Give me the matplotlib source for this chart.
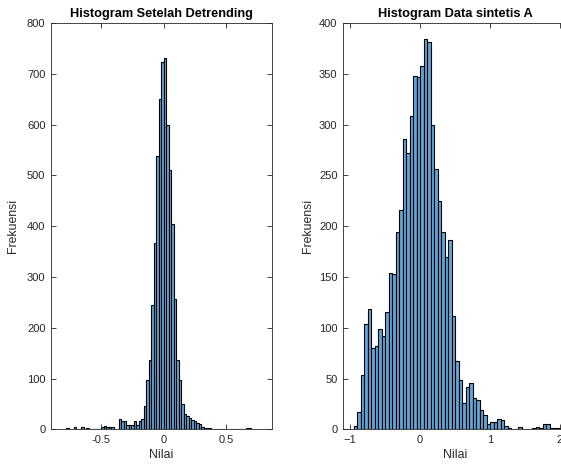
import numpy as np
import matplotlib
matplotlib.use("Agg")
import matplotlib.pyplot as plt

plt.rcParams['font.family'] = ['Liberation Sans', 'DejaVu Sans']

# ---------------- data ----------------
# Left: "Histogram Setelah Detrending" (bin width 0.02, first bin starts at -0.80)
left_bin_start = -0.80
left_bin_width = 0.02
left_counts = [
    0, 3, 0, 0, 5, 0, 0, 5, 0, 2,          # -0.80 .. -0.62
    0, 0, 0, 0, 0, 4, 7, 4, 4, 4,          # -0.60 .. -0.42
    1, 1, 20, 16, 17, 9, 9, 8, 17, 9,      # -0.40 .. -0.22
    17, 20, 45, 97, 137, 244, 366, 538, 650, 723,   # -0.20 .. -0.02
    732, 599, 511, 405, 256, 136, 97, 50, 31, 27,   # 0.00 .. 0.18
    23, 19, 17, 13, 10, 5, 3, 2, 2, 0,     # 0.20 .. 0.38
    0, 0, 0, 0, 0, 0, 0, 0, 0, 0,          # 0.40 .. 0.58
    0, 0, 0, 3, 3,                         # 0.60 .. 0.68
]

# Right: "Histogram Data sintetis A" (bin width 0.05, first bin starts at -0.95)
right_bin_start = -0.95
right_bin_width = 0.05
right_counts = [
    3, 17, 53, 104, 118, 80, 82, 99, 92, 115,        # -0.95 .. -0.50
    154, 153, 194, 216, 286, 272, 308, 348, 347, 358,  # -0.45 .. 0.00
    384, 381, 300, 256, 225, 194, 170, 186, 112, 67,   # 0.05 .. 0.50
    49, 26, 42, 46, 31, 29, 19, 14, 5, 7,              # 0.55 .. 1.00
    7, 10, 9, 3, 1, 0, 0, 2, 0, 0,                     # 1.05 .. 1.50
    0, 1, 2, 1, 5, 5, 1, 1, 1,                         # 1.55 .. 1.95
]

left_title = "Histogram Setelah Detrending"
right_title = "Histogram Data sintetis A"
xlabel = "Nilai"
ylabel = "Frekuensi"
left_xticks = [-0.5, 0, 0.5]
left_yticks = list(range(0, 801, 100))
right_xticks = [-1, 0, 1, 2]
right_yticks = list(range(0, 401, 50))

# ---------------- style ----------------
W, H = 561, 469
DPI = 100
face = '#5FA6D8'
edge = '#000000'
axis_col = '#262626'

fig = plt.figure(figsize=(W / DPI, H / DPI), dpi=DPI)

def px_rect(x0, x1, ytop, ybot):
    return [x0 / W, (H - ybot) / H, (x1 - x0) / W, (ybot - ytop) / H]

ax1 = fig.add_axes(px_rect(51, 272, 23, 429.3))
ax2 = fig.add_axes(px_rect(343, 567, 23, 429.3))

def draw(ax, start, width, counts, xlim, ylim, xticks, yticks, title, xticklabels=None):
    counts = np.asarray(counts, dtype=float)
    lefts = start + width * np.arange(len(counts))
    ax.bar(lefts, counts, width=width, align='edge', color=face,
           edgecolor=edge, linewidth=0.8)
    ax.set_xlim(*xlim)
    ax.set_ylim(*ylim)
    ax.set_xticks(xticks)
    if xticklabels is not None:
        ax.set_xticklabels(xticklabels)
    ax.set_yticks(yticks)
    ax.tick_params(direction='in', length=3.5, width=0.6, colors=axis_col,
                   labelsize=8, top=True, right=True, pad=4)
    for s in ax.spines.values():
        s.set_color(axis_col)
        s.set_linewidth(0.6)
    ax.set_title(title, fontsize=9.2, fontweight='bold', color='#000000', pad=4)
    ax.set_xlabel(xlabel, fontsize=8.8, color=axis_col, labelpad=3)
    ax.set_ylabel(ylabel, fontsize=8.8, color=axis_col, labelpad=6)

draw(ax1, left_bin_start, left_bin_width, left_counts, (-0.9, 0.866), (0, 800),
     left_xticks, left_yticks, left_title, ['-0.5', '0', '0.5'])
draw(ax2, right_bin_start, right_bin_width, right_counts, (-1.1, 2.1), (0, 400),
     right_xticks, right_yticks, right_title)

ax1.yaxis.set_label_coords(-32 / 221, 0.5)
ax2.yaxis.set_label_coords(-29 / 224, 0.5)

fig.savefig('out.png', dpi=DPI)
